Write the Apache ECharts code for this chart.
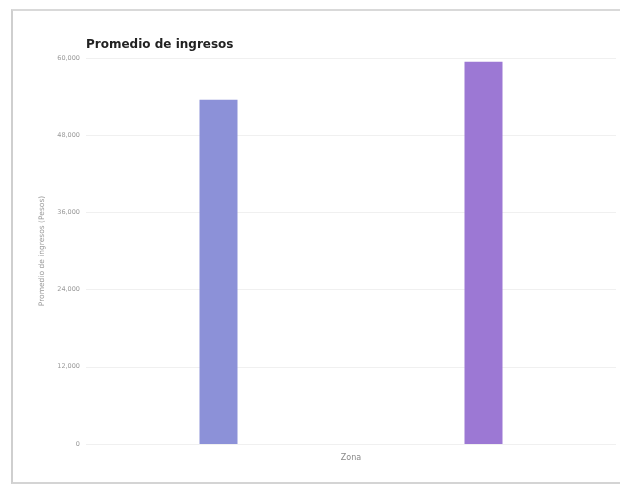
<!DOCTYPE html>
<html><head><meta charset="utf-8">
<script src="https://cdn.jsdelivr.net/npm/echarts@6/dist/echarts.min.js"></script>
<style>
html,body{margin:0;padding:0;background:#fff;}
#frame{position:absolute;left:11px;top:9px;width:609px;height:475px;border-left:2px solid #cfcfcf;border-top:2px solid #d9d9d9;border-bottom:2px solid #d4d4d4;box-sizing:border-box;}
#c{position:absolute;left:0;top:0;width:622px;height:487px;}
</style></head>
<body>
<div id="frame"></div>
<div id="c"></div>
<script>
const title = "Promedio de ingresos";
const categories = ["Zona A", "Zona B"];
const values = [53500, 59400];
const barColors = ["#8c91d8", "#9c78d4"];
const yTicks = [0, 12000, 24000, 36000, 48000, 60000];

const chart = echarts.init(document.getElementById('c'));
chart.setOption({
  animation: false,
  title: { text: title, left: 81, top: 34, textStyle: { fontFamily: 'DejaVu Sans', fontSize: 12, fontWeight: 'bold', color: '#222' } },
  grid: { left: 86, right: 6, top: 58, bottom: 43 },
  xAxis: {
    type: 'category', data: categories,
    name: 'Zona', nameLocation: 'middle', nameGap: 10,
    nameTextStyle: { fontSize: 8, color: '#888', fontFamily: 'DejaVu Sans' },
    axisLine: { show: false }, axisTick: { show: false }, axisLabel: { show: false }
  },
  yAxis: {
    type: 'value', min: yTicks[0], max: yTicks[yTicks.length - 1], interval: yTicks[1] - yTicks[0],
    name: 'Promedio de ingresos (Pesos)', nameLocation: 'middle', nameGap: 40,
    nameTextStyle: { fontSize: 7.5, color: '#999', fontFamily: 'DejaVu Sans' },
    axisLabel: { fontSize: 6.5, color: '#999', margin: 6, fontFamily: 'DejaVu Sans',
      formatter: v => v.toLocaleString('en-US') },
    splitLine: { lineStyle: { color: '#f0f0f0', width: 1 } },
    axisLine: { show: false }, axisTick: { show: false }
  },
  series: [{
    type: 'bar', barWidth: 38,
    data: values.map((v, i) => ({ value: v, itemStyle: { color: barColors[i] } }))
  }]
});
</script>
</body></html>
